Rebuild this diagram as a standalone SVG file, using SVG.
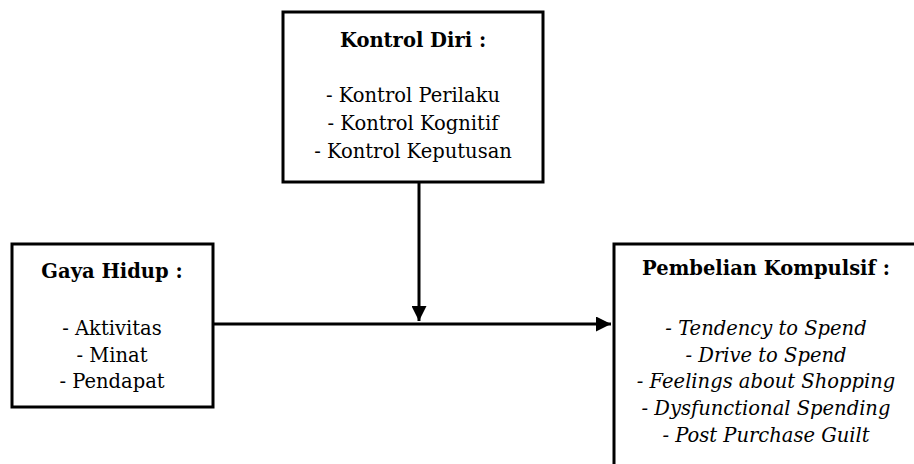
<svg xmlns="http://www.w3.org/2000/svg" width="914" height="464" viewBox="0 0 914 464">
<defs>
<style>
.box{fill:#fff;stroke:#000;stroke-width:3}
.t{font-family:"DejaVu Serif","Liberation Serif",serif;font-size:19.5px;fill:#000;text-anchor:middle}
.b{font-weight:bold}
.i{font-style:italic}
.ln{stroke:#000;stroke-width:3;fill:none}
</style>
<marker id="ah" markerWidth="5" markerHeight="5" refX="5" refY="2.5" orient="auto" markerUnits="strokeWidth">
<path d="M0,0 L5,2.5 L0,5 Z" fill="#000"/>
</marker>
</defs>
<rect width="914" height="464" fill="#fff"/>
<g id="connectors">
<path class="ln" d="M213,324 H611" marker-end="url(#ah)"/>
<path class="ln" d="M419,183 V321" marker-end="url(#ah)"/>
</g>
<g id="kontrol-diri">
<rect class="box" x="283" y="12" width="260" height="170"/>
<text class="t b" x="413" y="47">Kontrol Diri :</text>
<text class="t" x="413" y="102">- Kontrol Perilaku</text>
<text class="t" x="413" y="130">- Kontrol Kognitif</text>
<text class="t" x="413" y="158">- Kontrol Keputusan</text>
</g>
<g id="gaya-hidup">
<rect class="box" x="12" y="244" width="201" height="163"/>
<text class="t b" x="112" y="278">Gaya Hidup :</text>
<text class="t" x="112" y="335">- Aktivitas</text>
<text class="t" x="112" y="362">- Minat</text>
<text class="t" x="112" y="388">- Pendapat</text>
</g>
<g id="pembelian-kompulsif">
<rect class="box" x="614" y="244" width="310" height="240"/>
<text class="t b" x="766" y="275">Pembelian Kompulsif :</text>
<text class="t i" x="766" y="335">- Tendency to Spend</text>
<text class="t i" x="766" y="362">- Drive to Spend</text>
<text class="t i" x="766" y="388">- Feelings about Shopping</text>
<text class="t i" x="766" y="415">- Dysfunctional Spending</text>
<text class="t i" x="766" y="442">- Post Purchase Guilt</text>
</g>
</svg>
